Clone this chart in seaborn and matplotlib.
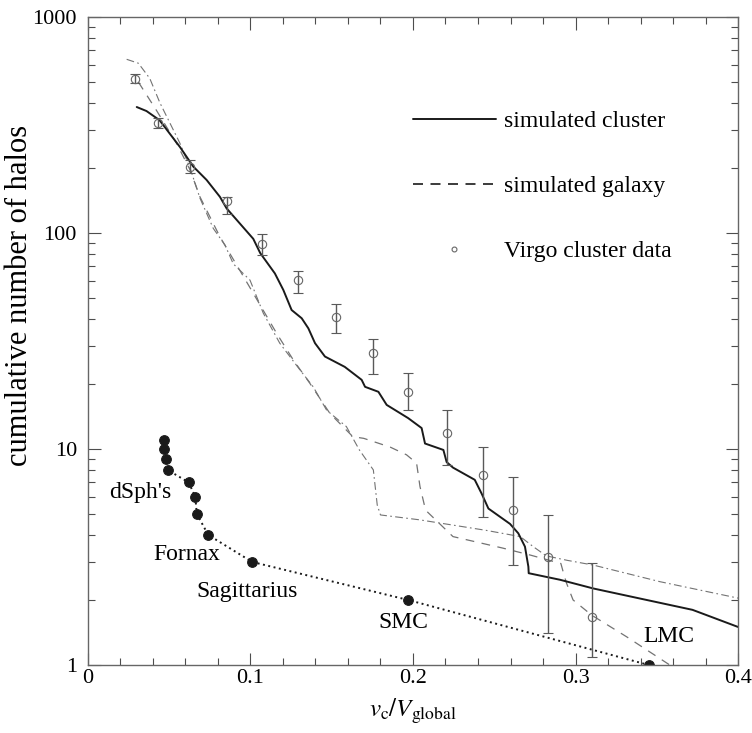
import numpy as np
import pandas as pd
import matplotlib
matplotlib.use("Agg")
import matplotlib.pyplot as plt
from matplotlib.lines import Line2D
from matplotlib.ticker import MultipleLocator, LogLocator, NullFormatter
import seaborn as sns

# simulated cluster (solid)
clu_v = [0.030, 0.036, 0.044, 0.0566, 0.0648, 0.073, 0.0812, 0.0853, 0.1017, 0.106,
         0.115, 0.1202, 0.1253, 0.1315, 0.1356, 0.1397, 0.1458, 0.158, 0.1684, 0.1705,
         0.1787, 0.1838, 0.197, 0.2053, 0.2074, 0.2187, 0.2207, 0.2246, 0.238, 0.2423,
         0.2464, 0.2597, 0.2648, 0.2689, 0.271, 0.2712, 0.2905, 0.311, 0.372, 0.40]
clu_n = [383, 367, 333, 250, 203, 176, 147, 130, 94, 80.7,
         65, 54.5, 44, 40.3, 36.2, 30.9, 26.8, 24, 20.9, 19.4,
         18.4, 16, 13.9, 12.5, 10.6, 9.9, 8.7, 8.2, 7.2, 6.2,
         5.3, 4.5, 4.07, 3.53, 2.85, 2.66, 2.48, 2.26, 1.8, 1.5]

# simulated galaxy (dashed)
gal_v = [0.031, 0.042, 0.0545, 0.0628, 0.0689, 0.0812, 0.0935, 0.1017, 0.1161, 0.1264,
         0.1366, 0.1489, 0.163, 0.1697, 0.186, 0.196, 0.2022, 0.2043, 0.207, 0.209,
         0.2246, 0.255, 0.272, 0.291, 0.293, 0.2945, 0.2985, 0.31, 0.3315, 0.358, 0.362]
gal_n = [500, 371, 260, 196, 147, 96, 67, 52.6, 34.3, 25.8,
         20.1, 14.6, 11.4, 11.2, 10.2, 9.4, 8.6, 6.7, 5.5, 5.1,
         3.93, 3.48, 3.23, 2.95, 2.6, 2.39, 2.0, 1.7, 1.35, 1.0, 0.95]

# second galaxy run (dash-dot)
gal2_v = [0.0238, 0.031, 0.038, 0.0443, 0.0505, 0.0566, 0.0628, 0.0689, 0.0771, 0.0843,
          0.0894, 0.0997, 0.1079, 0.118, 0.1305, 0.1386, 0.1469, 0.159, 0.167, 0.1756,
          0.178, 0.180, 0.204, 0.245, 0.266, 0.274, 0.282, 0.295, 0.311, 0.352, 0.40]
gal2_n = [637, 611, 520, 400, 322, 260, 200, 145, 105, 88,
          72, 60.5, 42.5, 30.9, 23.2, 19.4, 15.1, 12.7, 9.9, 8.0,
          5.5, 4.95, 4.7, 4.2, 3.93, 3.53, 3.2, 3.05, 2.9, 2.43, 2.04]

# Virgo cluster data with error bars
vir_v = [0.0289, 0.0433, 0.0628, 0.0853, 0.1068, 0.1294, 0.1526, 0.1752, 0.197, 0.2207,
         0.2429, 0.2613, 0.2833, 0.310]
vir_n = [519, 322, 203, 140, 89, 60.6, 41, 27.7, 18.4, 11.8, 7.6, 5.2, 3.17, 1.67]
vir_hi = [545, 340, 217, 146, 99, 67, 47, 32.4, 22.6, 15.1, 10.2, 7.45, 4.95, 2.98]
vir_lo = [495, 305, 189, 123, 79, 52.7, 34.3, 22.2, 15.1, 8.4, 4.86, 2.9, 1.4, 1.09]

# Milky Way satellites
sat_v = [0.047, 0.047, 0.048, 0.049, 0.062, 0.066, 0.067, 0.074, 0.101, 0.197, 0.345]
sat_n = [11, 10, 9, 8, 7, 6, 5, 4, 3, 2, 1]

x_ticks = [0, 0.1, 0.2, 0.3, 0.4]
x_labels = ['0', '0.1', '0.2', '0.3', '0.4']
y_ticks = [1, 10, 100, 1000]
y_labels = ['1', '10', '100', '1000']

sns.set_theme(style="ticks")
plt.rcParams.update({
    'font.family': ['Liberation Serif', 'DejaVu Serif'],
    'mathtext.fontset': 'stix',
    'axes.edgecolor': '0.4',
    'axes.linewidth': 1.0,
    'text.color': 'black',
    'axes.labelcolor': 'black',
    'xtick.color': 'black',
    'ytick.color': 'black',
})

fig = plt.figure(figsize=(7.52, 7.33), dpi=100)
ax = fig.add_axes([0.117, 0.0928, 0.8644, 0.884])

gray = '0.45'
sns.lineplot(x=gal2_v, y=gal2_n, sort=False, estimator=None, ax=ax, color=gray,
             lw=0.8, linestyle=(0, (7, 3, 1.5, 3)))
sns.lineplot(x=gal_v, y=gal_n, sort=False, estimator=None, ax=ax, color=gray,
             lw=0.9, linestyle=(0, (7, 6)))
sns.lineplot(x=clu_v, y=clu_n, sort=False, estimator=None, ax=ax, color='k', lw=1.4)

err = [np.array(vir_n) - np.array(vir_lo), np.array(vir_hi) - np.array(vir_n)]
ax.errorbar(vir_v, vir_n, yerr=err, fmt='o', ms=6, mfc='none', mec='0.4', mew=0.8,
            ecolor='0.35', elinewidth=1.0, capsize=3.6, capthick=1.0)

sns.lineplot(x=sat_v, y=sat_n, sort=False, estimator=None, ax=ax, color='k',
             lw=1.4, linestyle=(0, (1, 1.8)), marker='o', markersize=7, mec='k', mfc='k')

tkw = dict(fontsize=17, ha='left', va='center')
ax.text(0.0129, 6.32, "dSph's", **tkw)
ax.text(0.040, 3.26, "Fornax", **tkw)
ax.text(0.0665, 2.18, "Sagittarius", **tkw)
ax.text(0.1785, 1.565, "SMC", **tkw)
ax.text(0.3415, 1.35, "LMC", **tkw)

ax.set_yscale('log')
ax.set_xlim(0, 0.4)
ax.set_ylim(1, 1000)
ax.set_yticks(y_ticks)
ax.set_yticklabels(y_labels)
ax.yaxis.set_minor_locator(LogLocator(base=10, subs=range(2, 10)))
ax.yaxis.set_minor_formatter(NullFormatter())
ax.set_xticks(x_ticks)
ax.set_xticklabels(x_labels)
ax.xaxis.set_minor_locator(MultipleLocator(0.02))
ax.tick_params(which='both', direction='in', top=True, right=True, color='0.3', width=0.8)
ax.tick_params(which='major', length=9, labelsize=16)
ax.tick_params(which='minor', length=5)
ax.tick_params(axis='x', pad=3)
ax.tick_params(axis='y', pad=8)

ax.set_xlabel(r'$v_{\rm c}/V_{\rm global}$', fontsize=18, labelpad=6)
ax.set_ylabel('cumulative number of halos', fontsize=22)
ax.yaxis.set_label_coords(-0.083, 0.571)

handles = [Line2D([], [], color='k', lw=1.4),
           Line2D([], [], color='k', lw=1.2, linestyle=(0, (6, 4.5))),
           Line2D([], [], color='0.4', marker='o', ms=3.5, mfc='none', mew=0.8, linestyle='none')]
ax.legend(handles, ['simulated cluster', 'simulated galaxy', 'Virgo cluster data'],
          loc='upper left', bbox_to_anchor=(0.5, 0.856), frameon=False, fontsize=17,
          handlelength=3.5, handletextpad=0.35, labelspacing=1.85,
          borderpad=0, borderaxespad=0)

fig.savefig('out.png', dpi=100)
